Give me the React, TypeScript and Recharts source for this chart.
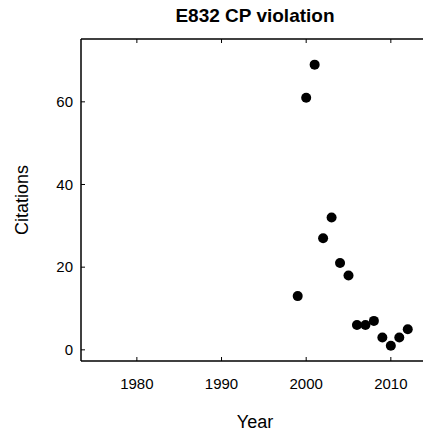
import { ScatterChart, Scatter, XAxis, YAxis } from 'recharts'

const years = [1999, 2000, 2001, 2002, 2003, 2004, 2005, 2006, 2007, 2008, 2009, 2010, 2011, 2012]
const citations = [13, 61, 69, 27, 32, 21, 18, 6, 6, 7, 3, 1, 3, 5]
const yearTicks = [1980, 1990, 2000, 2010]
const citationTicks = [0, 20, 40, 60]

const points = years.map((year, i) => ({ year, citations: citations[i] }))

const font = '"Liberation Sans", Arial, Helvetica, sans-serif'
const tickStyle = { fill: '#000', fontSize: 15, fontFamily: font }
const labelStyle = { fill: '#000', fontSize: 18, fontFamily: font }
const axisLine = { stroke: '#000', strokeWidth: 1.5 }

const Dot = (props: any) => <circle cx={props.cx} cy={props.cy} r={5} fill="#000" />

export default function App() {
  return (
    <div style={{ position: 'absolute', left: 0, top: 0, width: 423, height: 432, background: '#fff' }}>
      <div
        style={{
          position: 'absolute',
          left: 155,
          width: 200,
          top: 6,
          textAlign: 'center',
          fontFamily: font,
          fontWeight: 'bold',
          fontSize: 19,
          lineHeight: '19px',
          color: '#000',
        }}
      >
        E832 CP violation
      </div>
      <ScatterChart width={423} height={432} margin={{ top: 29, right: 0, bottom: 0, left: 0 }}>
        <XAxis
          xAxisId="top"
          orientation="top"
          type="number"
          dataKey="year"
          domain={[1973.4, 2013.8]}
          ticks={yearTicks}
          allowDataOverflow
          height={10}
          tickSize={-4}
          tickFormatter={() => ''}
          axisLine={axisLine}
          tickLine={{ stroke: '#000' }}
        />
        <XAxis
          type="number"
          dataKey="year"
          domain={[1973.4, 2013.8]}
          ticks={yearTicks}
          allowDataOverflow
          height={71}
          tickSize={-4}
          tickMargin={21}
          tick={tickStyle}
          axisLine={axisLine}
          tickLine={{ stroke: '#000' }}
          label={{ value: 'Year', position: 'insideBottom', offset: 4, dx: 3, style: labelStyle }}
        />
        <YAxis
          type="number"
          dataKey="citations"
          domain={[-2.7, 75.2]}
          ticks={citationTicks}
          allowDataOverflow
          width={81}
          tickSize={-4}
          tickMargin={12}
          tick={tickStyle}
          axisLine={axisLine}
          tickLine={{ stroke: '#000' }}
          label={{
            value: 'Citations',
            angle: -90,
            position: 'insideLeft',
            offset: 22,
            style: { ...labelStyle, textAnchor: 'middle' },
          }}
        />
        <Scatter data={points} fill="#000" shape={Dot} isAnimationActive={false} />
      </ScatterChart>
    </div>
  )
}
